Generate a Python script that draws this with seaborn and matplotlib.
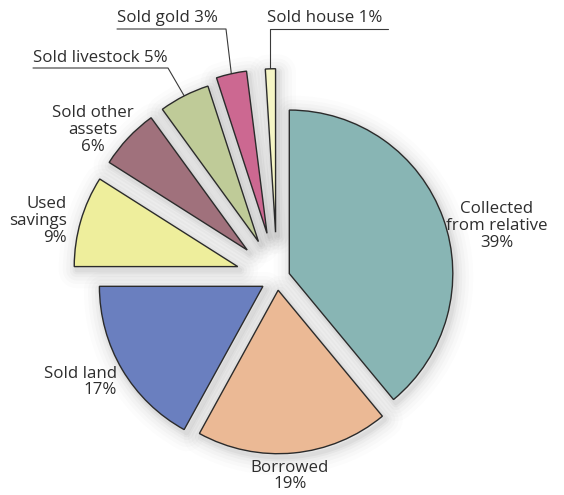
import numpy as np
import seaborn as sns
import matplotlib.pyplot as plt

# data
labels = ["Collected\nfrom relative\n39%", "Borrowed\n19%", "Sold land\n17%", "Used\nsavings\n9%",
          "Sold other\nassets\n6%", "Sold livestock 5%", "Sold gold 3%", "Sold house 1%"]
values = [39, 19, 17, 9, 6, 5, 3, 1]
colors = ["#88b5b4", "#ebb995", "#6a7fbf", "#eeee9c", "#a0717c", "#bfcb98", "#cc6891", "#f5f5c5"]
explode = [0.08, 0.075, 0.1, 0.25, 0.25, 0.25, 0.28, 0.28]

sns.set_style("white")
plt.rcParams['font.family'] = ['Open Sans', 'DejaVu Sans']
TXT = "#2e2e2e"

# the missing 1% sits between "Sold gold" and "Sold house" in the original
gap = 100 - sum(values)
vals = values[:-1] + [gap] + values[-1:]
cols = colors[:-1] + ["none"] + colors[-1:]
expl = explode[:-1] + [0] + explode[-1:]
fracs = np.array(vals) / 100

fig = plt.figure(figsize=(5.64, 4.95), dpi=100)
ax = fig.add_axes([0, 0, 1, 1])

# pixel -> data (radius = 163.5 px, centre at 277, 278)
R, CX, CY = 163.5, 277, 278
def at(px, py):
    return (px - CX) / R, (CY - py) / R

# soft glow behind the slices
for lw, a in [(26, 0.012), (20, 0.016), (15, 0.02), (10, 0.025), (6, 0.03), (3, 0.035)]:
    ww, _ = ax.pie(fracs, startangle=90, counterclock=False, explode=expl, normalize=False,
                   center=(0.015, -0.022),
                   wedgeprops=dict(facecolor="none", edgecolor=(0, 0, 0, a), linewidth=lw, joinstyle="round"))
    ww[-2].set_visible(False)

wedges, _ = ax.pie(fracs, colors=cols, startangle=90, counterclock=False, explode=expl, normalize=False,
                   wedgeprops=dict(edgecolor="#2b2b2b", linewidth=1.0))
wedges[-2].set_visible(False)
for w in wedges:
    w.set_zorder(3)

ax.set_xlim(-CX / R, (564 - CX) / R)
ax.set_ylim(-(495 - CY) / R, CY / R)
ax.set_aspect("auto")
ax.axis("off")

def outer_mid(w):
    t = np.deg2rad((w.theta1 + w.theta2) / 2)
    return w.center[0] + w.r * np.cos(t), w.center[1] + w.r * np.sin(t)

fs = 12.2
ax.text(*at(497, 226), labels[0], ha="center", va="center", fontsize=fs, color=TXT, linespacing=1.05)
ax.text(*at(290, 476), labels[1], ha="center", va="center", fontsize=fs, color=TXT, linespacing=1.05)
ax.text(*at(117, 382), labels[2], ha="right", va="center", fontsize=fs, color=TXT, linespacing=1.05,
        multialignment="right")
ax.text(*at(67, 221), labels[3], ha="right", va="center", fontsize=fs, color=TXT, linespacing=1.05,
        multialignment="right")
ax.text(*at(93, 130), labels[4], ha="center", va="center", fontsize=fs, color=TXT, linespacing=1.05)

# leader labels at the top
lc = "#3a3a3a"
gw, pw, hw = wedges[5], wedges[6], wedges[-1]

ax.text(*at(33, 66), labels[5], ha="left", va="bottom", fontsize=fs, color=TXT)
p = outer_mid(gw)
u0, u1 = at(33, 68), at(168, 68)
ax.plot([u0[0], u1[0], p[0]], [u0[1], u1[1], p[1]], color=lc, lw=0.8)

ax.text(*at(117, 26), labels[6], ha="left", va="bottom", fontsize=fs, color=TXT)
p = outer_mid(pw)
u0, u1 = at(117, 29), at(226, 29)
ax.plot([u0[0], u1[0], p[0]], [u0[1], u1[1], p[1]], color=lc, lw=0.8)

ax.text(*at(267, 26), labels[7], ha="left", va="bottom", fontsize=fs, color=TXT)
p = outer_mid(hw)
u1 = at(388, 29)
ax.plot([p[0], p[0], u1[0]], [p[1], u1[1], u1[1]], color=lc, lw=0.8)

fig.savefig("out.png", dpi=100, facecolor="white")
